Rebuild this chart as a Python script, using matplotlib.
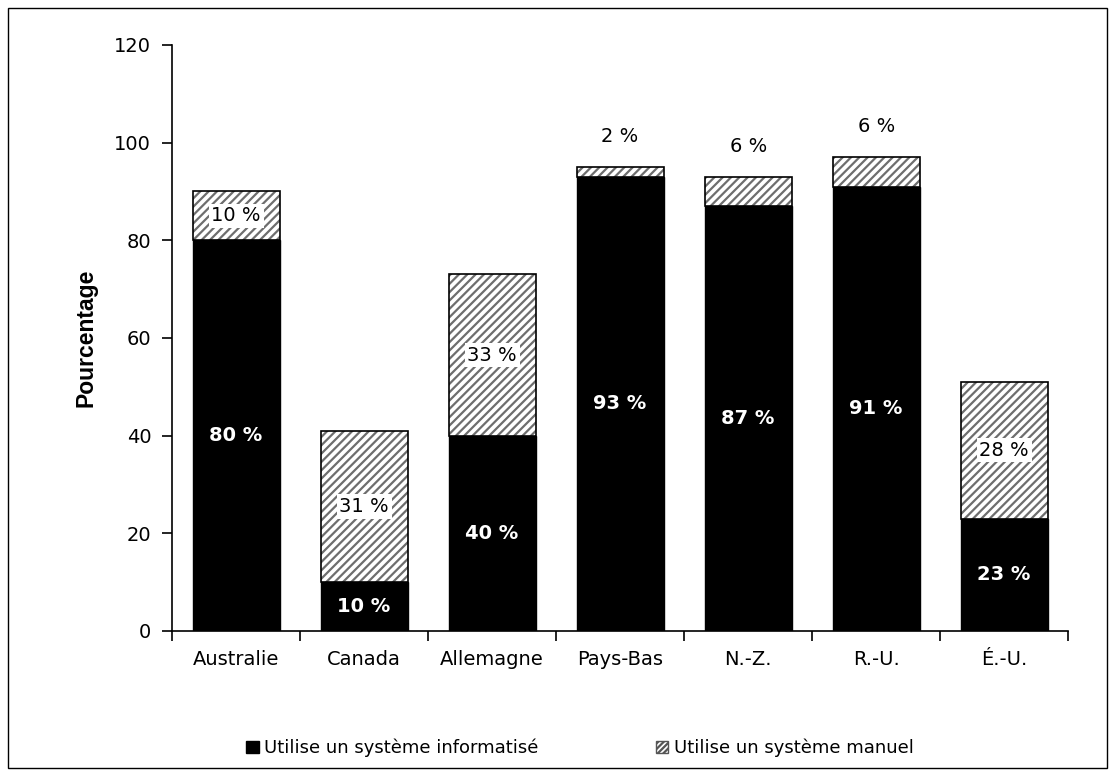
import numpy as np
import matplotlib
matplotlib.use("Agg")
from matplotlib import pyplot as plt
from matplotlib.patches import Rectangle, Patch

# ----- Data ----- #
pays = ["Australie", "Canada", "Allemagne", "Pays-Bas", "N.-Z.", "R.-U.", "É.-U."]
informatise = [80, 10, 40, 93, 87, 91, 23]
manuel = [10, 31, 33, 2, 6, 6, 28]
# small hatched segments get their label above the bar
label_dessus = [False, False, False, True, True, True, False]

fs = 14
plt.rcParams['font.family'] = ['DejaVu Sans']
plt.rcParams['hatch.linewidth'] = 1.6

fig = plt.figure(figsize=(11.15, 7.76), dpi=100)
ax = fig.add_axes([0.1543, 0.1869, 0.8037, 0.7552])

x = np.arange(len(pays))
w = 0.68

# black (computerised) part
ax.bar(x, informatise, width=w, color='black', edgecolor='black', linewidth=1.0, zorder=2)
# hatched (manual) part: hatch drawn in gray, outline drawn separately in black
ax.bar(x, manuel, width=w, bottom=informatise, color='white', edgecolor='#6e6e6e',
       hatch='////', linewidth=0, zorder=2)
ax.bar(x, manuel, width=w, bottom=informatise, fill=False, edgecolor='black',
       linewidth=1.2, zorder=3)

# ----- Labels ----- #
for i in range(len(pays)):
    ax.text(x[i], informatise[i]/2., f"{informatise[i]} %", color='white', fontsize=fs,
            fontweight='bold', ha='center', va='center', zorder=4)
    top = informatise[i] + manuel[i]
    if label_dessus[i]:
        ax.text(x[i], top + 6.2, f"{manuel[i]} %", color='black', fontsize=fs,
                ha='center', va='center', zorder=4)
    else:
        ax.text(x[i], informatise[i] + manuel[i]/2., f"{manuel[i]} %", color='black', fontsize=fs,
                ha='center', va='center', zorder=4,
                bbox=dict(facecolor='white', edgecolor='none', pad=2.0))

# ----- Axes ----- #
ax.set_xlim(-0.5, len(pays) - 0.5)
ax.set_ylim(0, 120)
ax.set_yticks(np.arange(0, 121, 20))
ax.set_yticklabels([str(v) for v in range(0, 121, 20)], fontsize=fs)
ax.set_xticks(x)
ax.set_xticklabels(pays, fontsize=fs)
ax.tick_params(axis='x', length=0, pad=14)
ax.set_xticks(np.arange(-0.5, len(pays)), minor=True)
ax.tick_params(axis='x', which='minor', length=7, width=1.2, direction='out')
ax.tick_params(axis='y', length=7, width=1.2, direction='out', pad=8)
for s in ['top', 'right']:
    ax.spines[s].set_visible(False)
for s in ['left', 'bottom']:
    ax.spines[s].set_linewidth(1.2)
ax.set_ylabel("Pourcentage", fontsize=16.5, fontweight='bold', family='Liberation Sans',
              labelpad=12)

# ----- Legend ----- #
handles = [Patch(facecolor='black', edgecolor='black'),
           Patch(facecolor='white', edgecolor='#555555', hatch='//////')]
fig.legend(handles, ["Utilise un système informatisé", "Utilise un système manuel"],
           loc='center', bbox_to_anchor=(0.52, 0.036), ncol=2, frameon=False,
           fontsize=13, handlelength=0.7, handleheight=0.7, handletextpad=0.3,
           columnspacing=6.5)

# outer frame
fig.patches.append(Rectangle((0.007, 0.01), 0.986, 0.98, transform=fig.transFigure,
                             fill=False, edgecolor='black', linewidth=1.0))

plt.savefig("out.png", dpi=100)
